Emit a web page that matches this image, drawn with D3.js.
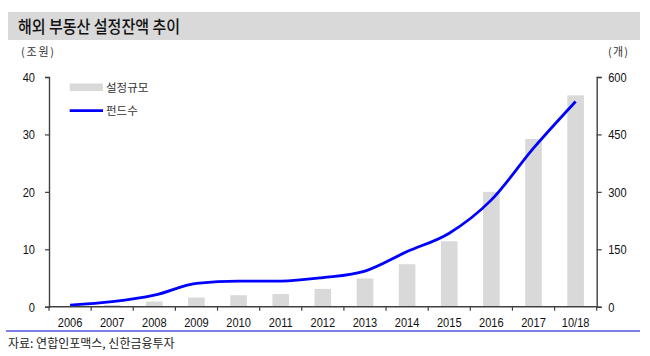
<!DOCTYPE html>
<html><head><meta charset="utf-8">
<script src="https://cdn.jsdelivr.net/npm/d3@7"></script>
<style>
html,body{margin:0;padding:0;background:#fff;}
svg{display:block;}
.num{font-family:"Liberation Sans",Arial,sans-serif;}
.kr{font-family:"Noto Sans CJK KR","Noto Sans",sans-serif;}
</style></head>
<body>
<svg id="c" width="650" height="356"></svg>
<script>
const categories = ["2006","2007","2008","2009","2010","2011","2012","2013","2014","2015","2016","2017","10/18"];
const sizeValues = [0.1,0.3,0.9,1.6,2.0,2.2,3.1,4.9,7.4,11.4,20.0,29.2,36.8]; // 조원
const fundCounts = [4,13,30,61,67,67,76,93,144,192,279,414,536]; // 개
const leftTicks = [0,10,20,30,40];
const rightTicks = [0,150,300,450,600];
const title = "해외 부동산 설정잔액 추이";
const legendLabels = ["설정규모","펀드수"];
const source = "자료: 연합인포맥스, 신한금융투자";

const svg = d3.select("#c");
const L = 49, R = 596.7, T = 77, B = 306.7;
const SX = 0.82; // horizontal squeeze for narrow numerals

// title band
svg.append("rect").attr("x",8).attr("y",12).attr("width",632).attr("height",28).attr("fill","#d9d9d9");
svg.append("text").attr("class","kr").attr("x",18).attr("y",32.5).attr("font-size",17).attr("font-weight",500)
  .attr("fill","#111").attr("textLength",162).attr("lengthAdjust","spacingAndGlyphs").text(title);

// unit labels
svg.append("text").attr("class","kr").attr("x",21).attr("y",55.5).attr("font-size",11).attr("fill","#333")
  .attr("textLength",33).attr("lengthAdjust","spacing").text("(조원)");
svg.append("text").attr("class","kr").attr("x",608).attr("y",55.5).attr("font-size",11).attr("fill","#333")
  .attr("textLength",20).attr("lengthAdjust","spacing").text("(개)");

const xb = d3.scaleBand().domain(categories).range([L,R]);
const yL = d3.scaleLinear().domain([0,40]).range([B,T]);
const yR = d3.scaleLinear().domain([0,600]).range([B,T]);

// bars
svg.append("g").selectAll("rect").data(categories).join("rect")
  .attr("x", d => xb(d) + xb.bandwidth()/2 - 8.3)
  .attr("width", 16.6)
  .attr("y", (d,i) => yL(sizeValues[i]))
  .attr("height", (d,i) => B - yL(sizeValues[i]))
  .attr("fill","#d9d9d9");

// line
const line = d3.line()
  .x((d,i) => xb(categories[i]) + xb.bandwidth()/2)
  .y(d => yR(d))
  .curve(d3.curveMonotoneX);
svg.append("path").datum(fundCounts).attr("d", line)
  .attr("fill","none").attr("stroke","#0000ff").attr("stroke-width",2.8);

// axes
const axisColor = "#404040";
const gL = svg.append("g").attr("transform",`translate(${L},0)`)
  .call(d3.axisLeft(yL).tickValues(leftTicks).tickSize(4).tickPadding(10).tickSizeOuter(4));
const gR = svg.append("g").attr("transform",`translate(${R},0)`)
  .call(d3.axisRight(yR).tickValues(rightTicks).tickSize(5).tickPadding(6).tickSizeOuter(5));
const gX = svg.append("g").attr("transform",`translate(0,${B})`)
  .call(d3.axisBottom(xb).tickSize(0).tickPadding(11));
// x boundary ticks
svg.append("g").selectAll("line").data(d3.range(categories.length+1)).join("line")
  .attr("x1", i => L + i*xb.step()).attr("x2", i => L + i*xb.step())
  .attr("y1", B).attr("y2", B+4).attr("stroke",axisColor).attr("stroke-width",1.2);

[gL,gR,gX].forEach(g => {
  g.select(".domain").attr("stroke",axisColor).attr("stroke-width",1.4);
  g.selectAll(".tick line").attr("stroke",axisColor).attr("stroke-width",1.2);
  g.selectAll("text").attr("class","num").attr("font-size",13.5).attr("fill","#111")
    .attr("transform",`scale(${SX},1)`);
});
gL.selectAll(".tick text").attr("x", -14/SX);
gR.selectAll(".tick text").attr("x", 11.5/SX);
gX.select(".domain").attr("d",`M${L},0H${R}`);

// legend
svg.append("rect").attr("x",69.7).attr("y",83.5).attr("width",33.3).attr("height",7.5).attr("fill","#d9d9d9");
svg.append("text").attr("class","kr").attr("x",106).attr("y",91.5).attr("font-size",11.5).attr("fill","#333").text(legendLabels[0]);
svg.append("line").attr("x1",69.7).attr("x2",103).attr("y1",110.7).attr("y2",110.7).attr("stroke","#0000ff").attr("stroke-width",2.8);
svg.append("text").attr("class","kr").attr("x",106).attr("y",115).attr("font-size",11.5).attr("fill","#333").text(legendLabels[1]);

// bottom rule + source
svg.append("line").attr("x1",6).attr("x2",640).attr("y1",331).attr("y2",331).attr("stroke","#0000cc").attr("stroke-width",1);
svg.append("text").attr("class","kr").attr("x",8).attr("y",347.5).attr("font-size",12).attr("fill","#222").text(source);
</script>
</body></html>
